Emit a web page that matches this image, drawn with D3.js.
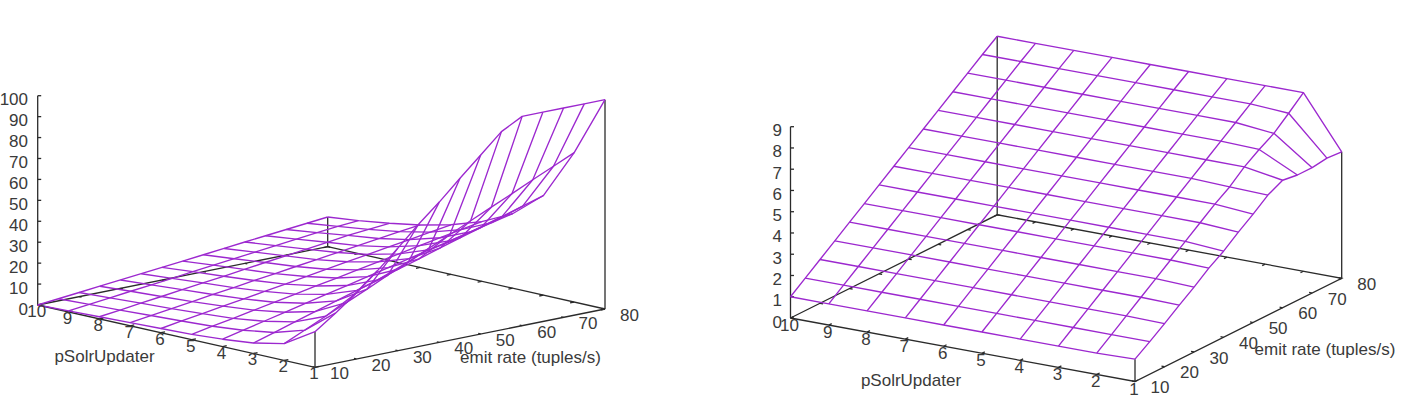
<!DOCTYPE html>
<html>
<head>
<meta charset="utf-8">
<style>
  html, body { margin: 0; padding: 0; background: #fff; }
  svg { display: block; }
  text { font-family: "Liberation Sans", Arial, sans-serif; font-size: 17px; fill: #3a3a3a; }
</style>
<script src="https://cdn.jsdelivr.net/npm/d3@7/dist/d3.min.js"></script>
</head>
<body>
<svg id="chart" width="1411" height="402"></svg>
<script>
// Grid coordinates of the two wireframe surfaces
const emitRates = [10, 15, 20, 25, 30, 35, 40, 45, 50, 55, 60, 65, 70, 75, 80];
const updaters = [10, 9, 8, 7, 6, 5, 4, 3, 2, 1];

// Tick labels
const rateTicks = [10, 20, 30, 40, 50, 60, 70, 80];
const updaterTicks = [10, 9, 8, 7, 6, 5, 4, 3, 2, 1];
const utilTicks = [0, 10, 20, 30, 40, 50, 60, 70, 80, 90, 100];
const loadTicks = [0, 1, 2, 3, 4, 5, 6, 7, 8, 9];

// Axis titles
const rateTitle = "emit rate (tuples/s)";
const updaterTitle = "pSolrUpdater";

// Left surface: one row per pSolrUpdater value (10 down to 1), one column per emit rate
const utilization = [
  [0, 1, 2, 3, 4, 5, 6, 7, 8.1, 9.1, 10.2, 11.2, 12.2, 13.2, 14.2],
  [0.5, 1.6, 2.7, 3.9, 5, 6.1, 7.3, 8.4, 9.5, 10.7, 11.8, 12.9, 14, 15, 15.8],
  [1, 2.2, 3.5, 4.7, 6, 7.2, 8.4, 9.7, 11, 12.2, 13.4, 14.7, 16, 16.9, 17.8],
  [1.5, 2.9, 4.2, 5.6, 7, 8.3, 9.7, 11, 12.4, 13.7, 15.1, 16.4, 17.8, 19.1, 20.3],
  [2, 3.6, 5.1, 6.7, 8.2, 9.8, 11.3, 12.9, 14.4, 16, 17.5, 19.1, 20.6, 22.2, 23.7],
  [2.5, 4.4, 6.2, 8.1, 9.9, 11.8, 13.7, 15.5, 17.4, 19.2, 21.1, 23, 24.8, 26.7, 28.5],
  [3.5, 5.8, 8.1, 10.4, 12.7, 15, 17.2, 19.5, 21.8, 24.1, 26.4, 28.7, 31, 33.3, 35.6],
  [5, 8, 11.1, 14.1, 17.2, 20.2, 23.2, 26.3, 29.3, 32.4, 35.4, 38.4, 41.5, 44.5, 47.6],
  [8, 12.5, 17.1, 21.6, 26.1, 30.7, 35.2, 39.7, 44.2, 48.8, 53.3, 57.8, 62.4, 66.9, 71.4],
  [17, 24, 31.5, 40, 49, 58.4, 67, 76.4, 85.5, 94.7, 100, 100, 100, 100, 100]
];

// Right surface, same layout
const load = [
  [1, 1.53, 2.06, 2.59, 3.12, 3.65, 4.18, 4.71, 5.24, 5.77, 6.3, 6.83, 7.36, 7.89, 8.4],
  [1, 1.53, 2.06, 2.59, 3.12, 3.65, 4.18, 4.71, 5.24, 5.77, 6.3, 6.83, 7.36, 7.89, 8.4],
  [1, 1.53, 2.06, 2.59, 3.12, 3.65, 4.18, 4.71, 5.24, 5.77, 6.3, 6.83, 7.36, 7.89, 8.4],
  [1, 1.53, 2.06, 2.59, 3.12, 3.65, 4.18, 4.71, 5.24, 5.77, 6.3, 6.83, 7.36, 7.89, 8.4],
  [1, 1.53, 2.06, 2.59, 3.12, 3.65, 4.18, 4.71, 5.24, 5.77, 6.3, 6.83, 7.36, 7.89, 8.4],
  [1, 1.53, 2.06, 2.59, 3.12, 3.65, 4.18, 4.71, 5.24, 5.77, 6.3, 6.83, 7.36, 7.89, 8.4],
  [1, 1.53, 2.06, 2.59, 3.12, 3.65, 4.18, 4.71, 5.24, 5.77, 6.3, 6.83, 7.36, 7.89, 8.4],
  [1, 1.53, 2.06, 2.59, 3.12, 3.65, 4.18, 4.71, 5.24, 5.77, 6.3, 6.83, 7.36, 7.89, 8.4],
  [1, 1.53, 2.06, 2.59, 3.12, 3.65, 4.18, 4.71, 5.24, 5.7, 6.3, 6.77, 7.18, 7.78, 8.4],
  [1.05, 1.53, 2.03, 2.55, 3.05, 3.6, 4.05, 4.6, 5.1, 5.65, 6, 5.9, 5.9, 6, 5.95]
];

// Projection of each panel: screen positions of the floor corners and the height of the z axis
const panels = [
  {
    grid: utilization, zTicks: utilTicks, zMax: 100,
    near: [37.7, 305], right: [315, 367.3], far: [605, 309], zTop: 95.7,
    updaterOffset: [-1, 6.5], rateOffset: [24.5, 6.5],
    updaterTitleAt: [104.5, 356], rateTitleAt: [530.5, 357.5], zLabelX: 28
  },
  {
    grid: load, zTicks: loadTicks, zMax: 9,
    near: [790.5, 318], right: [1135, 381.5], far: [1341.7, 278.3], zTop: 126.7,
    updaterOffset: [-1, 7.5], rateOffset: [25, 6.2],
    updaterTitleAt: [911, 380], rateTitleAt: [1325, 349.5], zLabelX: 782
  }
];

const svg = d3.select("#chart");
const surfaceColor = "#9c28cf";

panels.forEach(p => {
  // Floor axes run along two screen directions; each is its own pair of scales
  const upX = d3.scaleLinear().domain([10, 1]).range([0, p.right[0] - p.near[0]]);
  const upY = d3.scaleLinear().domain([10, 1]).range([0, p.right[1] - p.near[1]]);
  const rateX = d3.scaleLinear().domain([10, 80]).range([0, p.far[0] - p.right[0]]);
  const rateY = d3.scaleLinear().domain([10, 80]).range([0, p.far[1] - p.right[1]]);
  const zPx = d3.scaleLinear().domain([0, p.zMax]).range([0, p.near[1] - p.zTop]);

  const px = (u, r) => p.near[0] + upX(u) + rateX(r);
  const py = (u, r, z = 0) => p.near[1] + upY(u) + rateY(r) - zPx(z);
  const path = d3.line();

  const g = svg.append("g");
  const axes = g.append("g").attr("fill", "none").attr("stroke", "#2b2b2b").attr("stroke-width", 1.3);
  const seg = pts => axes.append("path").attr("d", path(pts));

  // Floor outline
  seg([[px(10, 10), py(10, 10)], [px(1, 10), py(1, 10)], [px(1, 80), py(1, 80)],
       [px(10, 80), py(10, 80)], [px(10, 10), py(10, 10)]]);

  // Vertical axis and the corner posts reaching up to the surface
  seg([[p.near[0], p.near[1]], [p.near[0], p.zTop]]);
  [[1, 10, 0], [1, 80, 14], [10, 80, 14]].forEach(([u, r, col]) => {
    const z = p.grid[updaters.indexOf(u)][col];
    seg([[px(u, r), py(u, r)], [px(u, r), py(u, r, z)]]);
  });

  // Short tick marks, mirrored on the opposite floor edges
  updaterTicks.forEach(u => {
    seg([[px(u, 10), py(u, 10)], [px(u, 11), py(u, 11)]]);
    seg([[px(u, 80), py(u, 80)], [px(u, 79), py(u, 79)]]);
  });
  rateTicks.forEach(r => {
    seg([[px(1, r), py(1, r)], [px(1.08, r), py(1.08, r)]]);
    seg([[px(10, r), py(10, r)], [px(9.92, r), py(9.92, r)]]);
  });
  p.zTicks.forEach(z => {
    seg([[p.near[0], p.near[1] - zPx(z)], [p.near[0] + 3.5, p.near[1] - zPx(z)]]);
  });

  // Wireframe: one polyline per pSolrUpdater value and one per emit rate
  const wire = g.append("g").attr("fill", "none")
    .attr("stroke", surfaceColor).attr("stroke-width", 1.35).attr("stroke-linejoin", "round");
  wire.selectAll(".updater-line").data(updaters).join("path")
    .attr("class", "updater-line")
    .attr("d", (u, i) => path(emitRates.map((r, j) => [px(u, r), py(u, r, p.grid[i][j])])));
  wire.selectAll(".rate-line").data(emitRates).join("path")
    .attr("class", "rate-line")
    .attr("d", (r, j) => path(updaters.map((u, i) => [px(u, r), py(u, r, p.grid[i][j])])));

  // Tick labels
  g.selectAll(".z-label").data(p.zTicks).join("text")
    .attr("class", "z-label").attr("text-anchor", "end").attr("dominant-baseline", "central")
    .attr("x", p.zLabelX).attr("y", z => p.near[1] - zPx(z) + 4).text(z => z);
  g.selectAll(".up-label").data(updaterTicks).join("text")
    .attr("class", "up-label").attr("text-anchor", "middle").attr("dominant-baseline", "central")
    .attr("x", u => px(u, 10) + p.updaterOffset[0]).attr("y", u => py(u, 10) + p.updaterOffset[1]).text(u => u);
  g.selectAll(".rate-label").data(rateTicks).join("text")
    .attr("class", "rate-label").attr("text-anchor", "middle").attr("dominant-baseline", "central")
    .attr("x", r => px(1, r) + p.rateOffset[0]).attr("y", r => py(1, r) + p.rateOffset[1]).text(r => r);

  // Axis titles
  g.append("text").attr("text-anchor", "middle").attr("dominant-baseline", "central")
    .attr("x", p.updaterTitleAt[0]).attr("y", p.updaterTitleAt[1]).text(updaterTitle);
  g.append("text").attr("text-anchor", "middle").attr("dominant-baseline", "central")
    .attr("x", p.rateTitleAt[0]).attr("y", p.rateTitleAt[1]).text(rateTitle);
});
</script>
</body>
</html>
